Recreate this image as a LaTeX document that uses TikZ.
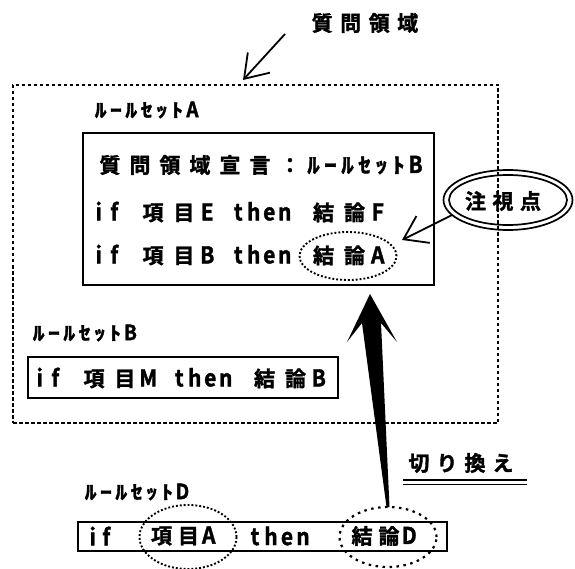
\documentclass[tikz,border=0pt]{standalone}
\usepackage{fontspec}
\usepackage{graphicx}
\usetikzlibrary{arrows.meta,calc,shapes.geometric}
\newfontfamily\jp[FakeBold=1.6]{Noto Sans CJK JP Bold}
\ExplSyntaxOn
\dim_new:N \l__mono_w_dim
\tl_new:N \l__mono_kx_tl
\tl_set:Nn \l__mono_kx_tl {1.35}
\NewDocumentCommand \mono { O{1.35} m m }
 {
  \dim_set:Nn \l__mono_w_dim {#2}
  \tl_set:Nn \l__mono_kx_tl {#1}
  \str_map_inline:nn {#3}
   {
    \str_if_eq:nnTF {##1} {~}
     { \hbox_to_wd:nn { \l__mono_w_dim } { } }
     {
      \int_compare:nNnTF { `##1 } > { 255 }
       {
        \int_compare:nNnTF { `##1 } > { "FF60 }
         { \hbox_to_wd:nn { \l__mono_w_dim } { \hss \scalebox{\l__mono_kx_tl}[1]{##1} \hss } }
         { \hbox_to_wd:nn { 2\l__mono_w_dim } { \hss ##1 \hss } }
       }
       { \hbox_to_wd:nn { \l__mono_w_dim } { \hss \scalebox{1}[1.1]{##1} \hss } }
     }
   }
 }
\ExplSyntaxOff
\begin{document}
\begin{tikzpicture}[x=1pt,y=-1pt,
  every node/.style={inner sep=0pt,outer sep=0pt},
  bigtxt/.style={font=\jp\fontsize{21}{24}\selectfont},
  smalltxt/.style={font=\jp\fontsize{19}{22}\selectfont,anchor=west},
  rulebox/.style={draw,line width=1.9pt,anchor=north west},
  qbox/.style={draw,line width=1.8pt,dash pattern=on 3.5pt off 2.5pt,anchor=north west},
  handarrow/.style={line width=1.8pt,-{Straight Barb[length=22pt,width=30pt,line width=1.8pt]}},
  dotring/.style={draw,ellipse,line width=1.9pt,dotted},
  dashring/.style={draw,ellipse,line width=2.2pt,dash pattern=on 2.5pt off 4.5pt},
  gazering/.style={draw,ellipse,line width=1.7pt}]
\useasboundingbox (0,0) rectangle (575,569);

% question domain title
\node[bigtxt] (title) at (365,23) {\mono{14.25pt}{質問領域}};
\coordinate (titletail) at (285,34);
\coordinate (titlehead) at (243,80);
\draw[handarrow] (titletail) -- (titlehead);

% outer dotted domain
\node[qbox,minimum width=485,minimum height=338] (domainbox) at (13,85) {};

% rule set A
\node[smalltxt] (labA) at (93,110) {\mono[1.25]{15.3pt}{ﾙｰﾙｾｯﾄA}};
\node[rulebox,minimum width=351,minimum height=152] (boxA) at (83,133) {};
\node[bigtxt,anchor=west] (l1) at (95,165) {\mono{15pt}{質問領域宣言：}\mono[1.2]{17pt}{ﾙｰﾙｾｯﾄB}};
\node[bigtxt,anchor=west] (l2) at (91,212) {\mono{15.5pt}{if 項目E then 結論F}};
\node[bigtxt,anchor=west] (l3) at (91,255) {\mono{15.5pt}{if 項目B then 結論A}};
\node[dotring,minimum width=97,minimum height=48] (focusA) at (348,256) {};

% gaze point
\node[gazering,minimum width=129,minimum height=60] (gazeo) at (508,200) {};
\node[gazering,minimum width=118,minimum height=50] (gazei) at (508,200) {};
\node[bigtxt] (gaze) at (503,201) {\mono{13.75pt}{注視点}};
\coordinate (gazetip) at (402,240);
\draw[handarrow] (gazeo.195) -- (gazetip);

% rule set B
\node[smalltxt] (labB) at (31,333) {\mono[1.25]{15.3pt}{ﾙｰﾙｾｯﾄB}};
\node[rulebox,minimum width=310,minimum height=41] (boxB) at (28,357) {};
\node[bigtxt,anchor=west] (lB) at (32,378) {\mono{15.5pt}{if 項目M then 結論B}};

% switch label
\node[bigtxt] (switch) at (461,463) {\mono{14pt}{切り換え}};
\draw[line width=1.3pt] (403,480) -- (527,480);
\draw[line width=1.3pt] (403,484.5) -- (527,484.5);

% rule set D
\node[smalltxt] (labD) at (83,492) {\mono[1.25]{15.3pt}{ﾙｰﾙｾｯﾄD}};
\node[rulebox,minimum width=369,minimum height=29] (boxD) at (78,522) {};
\node[bigtxt,anchor=west] (dif) at (86,536) {\mono{13.5pt}{if}};
\node[bigtxt,anchor=west] (ditem) at (148,536) {\mono{13.5pt}{項目A}};
\node[bigtxt,anchor=west] (dthen) at (247,536) {\mono{16pt}{then}};
\node[bigtxt,anchor=west] (dconc) at (348.5,536) {\mono{13.5pt}{結論D}};
\node[dotring,minimum width=97,minimum height=64] (ringItem) at (188,537) {};
\node[dashring,minimum width=97,minimum height=60] (ringConc) at (388,537) {};

% big switching arrow
\coordinate (swTip) at (370,294);
\coordinate (swBase) at (ringConc.north);
\fill (swTip) -- ($(swTip)+(27,48)$) -- ($(swTip)+(11,29)$) -- ($(swBase)+(1.5,0)$)
  -- ($(swBase)+(-1.5,0)$) -- ($(swTip)+(-8,29)$) -- ($(swTip)+(-23,48)$) -- cycle;
\end{tikzpicture}
\end{document}
